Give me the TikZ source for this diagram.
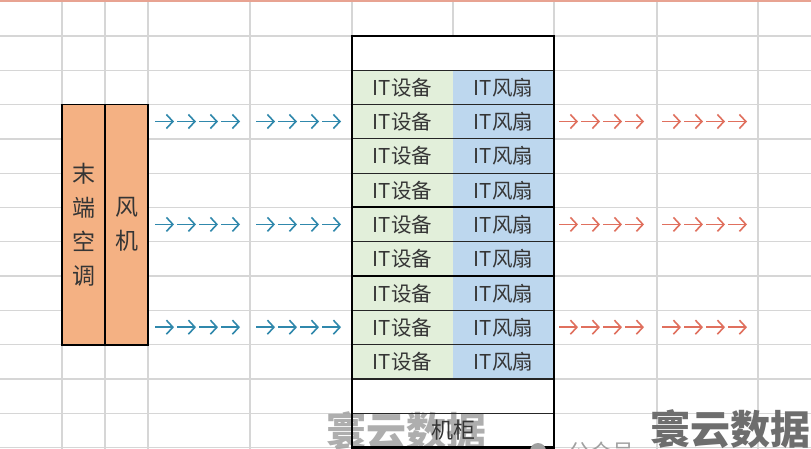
\documentclass[tikz,border=0pt]{standalone}
\usepackage{fontspec}
\newfontfamily\cjk{Noto Sans CJK SC}
\usetikzlibrary{arrows.meta}
\definecolor{gridc}{HTML}{D6D6D6}
\definecolor{topc}{HTML}{E8A392}
\definecolor{itgreen}{HTML}{E2EFDA}
\definecolor{itblue}{HTML}{BDD7EE}
\definecolor{orangec}{HTML}{F4B183}
\definecolor{txt}{HTML}{353535}
\definecolor{arrblue}{HTML}{3088AC}
\definecolor{arrred}{HTML}{E0705E}
\definecolor{wmlight}{HTML}{A0A0A0}
\definecolor{wmdark}{HTML}{6E6E6E}
\begin{document}
\begin{tikzpicture}[x=1pt,y=-1pt,
  gridline/.style={gridc, line width=1.3pt},
  cellbase/.style={minimum width=101pt, minimum height=34.3pt, inner sep=0pt, text=txt, font=\cjk\fontsize{20.5}{20.5}\selectfont},
  itg/.style={cellbase, fill=itgreen},
  itb/.style={cellbase, fill=itblue},
  whitecell/.style={cellbase, minimum width=202pt, fill=white},
  orangebox/.style={fill=orangec, draw=black, line width=1.8pt, minimum width=43pt, minimum height=240pt, inner sep=0pt, align=center, text=txt, font=\cjk\fontsize{23}{34}\selectfont},
  barrow/.style={arrblue, line width=1.6pt, -{Straight Barb[length=6.5pt,width=14pt]}},
  rarrow/.style={arrred, line width=1.6pt, -{Straight Barb[length=6.5pt,width=14pt]}},
  wm/.style={inner sep=0pt, font=\cjk\bfseries\fontsize{40}{40}\selectfont}
]
\useasboundingbox (0,0) rectangle (811,449);
\clip (0,0) rectangle (811,449);
\fill[white] (0,0) rectangle (811,449);
% spreadsheet grid
\foreach \k in {0,...,12} \draw[gridline] (0,{36+34.3*\k}) -- (811,{36+34.3*\k});
\foreach \x in {62,105,148,250,352,453,554,657,758} \draw[gridline] (\x,0) -- (\x,449);
\draw[topc, line width=2.5pt] (0,1) -- (811,1);
% cabinet
\node[whitecell] (cabtop) at (453,53.15) {};
\foreach \i in {1,...,9} {
  \node[itg] (dev\i) at (402.5,{36+34.3*\i+17.15}) {IT设备};
  \node[itb] (fan\i) at (503.5,{36+34.3*\i+17.15}) {IT风扇};
}
\node[whitecell] (cabgap) at (453,{36+34.3*10+17.15}) {};
\fill[white] (352,{36+34.3*11}) rectangle (554,447.6);
% watermark (behind the cabinet label)
\node[wm, text=wmlight, opacity=0.85] (wm1) at (406,431) {寰云数据};
\node[cellbase, minimum width=202pt, font=\cjk\fontsize{22}{22}\selectfont] (cabinet) at (453,{36+34.3*11+17.15}) {机柜};
\foreach \k in {1,...,11} \draw[black!85, line width=1.1pt] (352,{36+34.3*\k}) -- (554,{36+34.3*\k});
\foreach \k in {5,7} \draw[black, line width=2pt] (352,{36+34.3*\k}) -- (554,{36+34.3*\k});
\draw[black, line width=2.5pt] (352,36) rectangle (554,447.6);
% air conditioner and fan
\node[orangebox] (ac) at (83.5,224.6) {末\\端\\空\\调};
\node[orangebox] (blower) at (126.5,224.6) {风\\机};
% airflow arrows
\foreach \y in {121.5,224.4,327.2} {
  \foreach \x in {155,177,199,221,256,278,300,322} \draw[barrow] (\x,\y) -- ++(19,0);
  \foreach \x in {559,581,603,625,662,684,706,728} \draw[rarrow] (\x,\y) -- ++(19,0);
}
% watermarks
\node[wm, text=wmdark] (wm2) at (730,429) {寰云数据};
\fill[wmlight] (538,451) circle (8pt);
\node[inner sep=0pt, text=wmlight, font=\cjk\fontsize{22}{22}\selectfont] (wm3) at (601,452) {公众号};
\end{tikzpicture}
\end{document}
